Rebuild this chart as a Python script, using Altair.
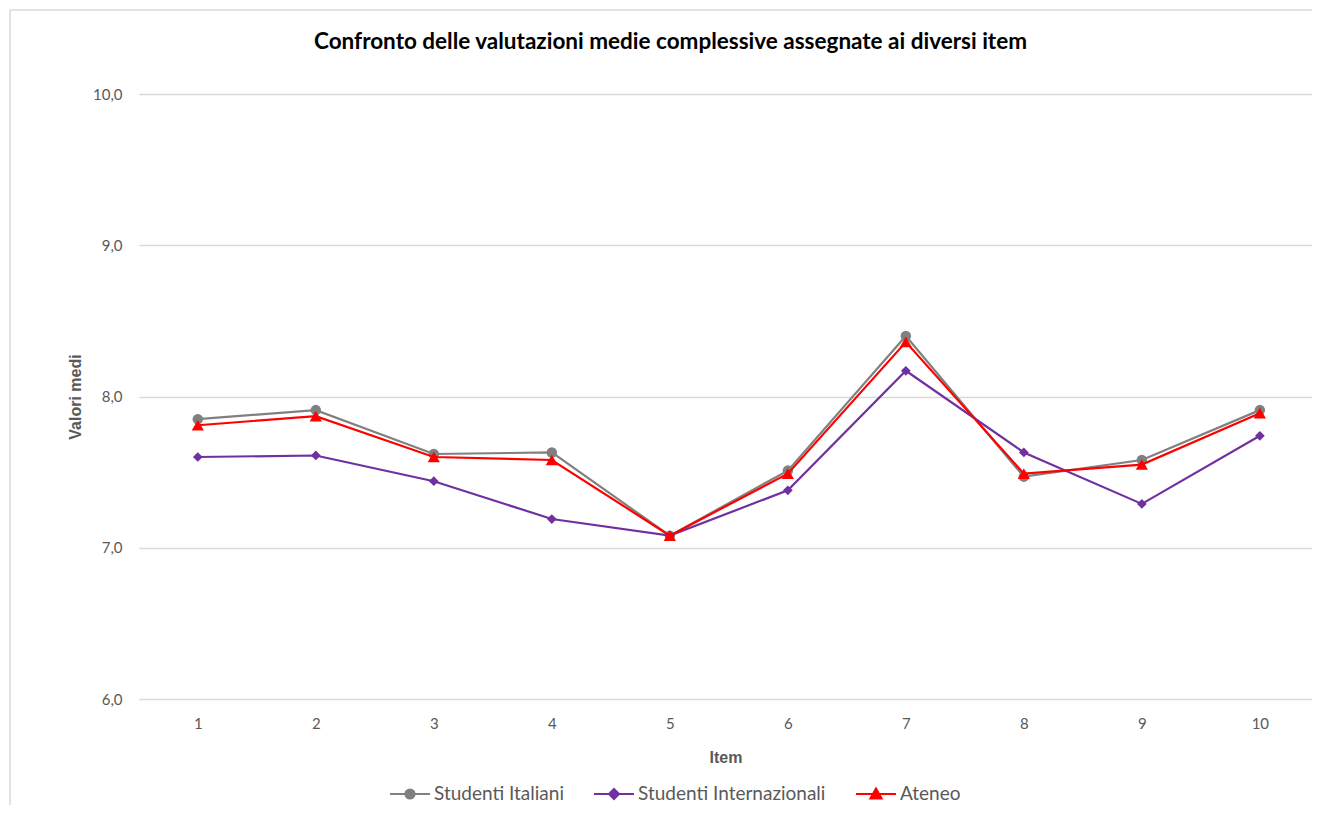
import altair as alt
import pandas as pd

items = [1, 2, 3, 4, 5, 6, 7, 8, 9, 10]
series_names = ["Studenti Italiani", "Studenti Internazionali", "Ateneo"]
italiani = [7.85, 7.91, 7.62, 7.63, 7.08, 7.51, 8.40, 7.47, 7.58, 7.91]
internazionali = [7.60, 7.61, 7.44, 7.19, 7.08, 7.38, 8.17, 7.63, 7.29, 7.74]
ateneo = [7.81, 7.87, 7.60, 7.58, 7.08, 7.49, 8.36, 7.49, 7.55, 7.89]
colors = ["#808080", "#7030A0", "#FF0000"]
shapes = ["circle", "diamond", "triangle-up"]
marker_sizes = [110, 95, 150]
legend_shapes = [
    "M-1,0H1M-0.23,0A0.23,0.23 0 1,0 0.23,0A0.23,0.23 0 1,0 -0.23,0Z",
    "M-1,0H1M0,-0.25L0.25,0L0,0.25L-0.25,0Z",
    "M-1,0H1M0,-0.27L0.28,0.22L-0.28,0.22Z",
]
y_ticks = [6, 7, 8, 9, 10]

rows = []
for name, vals in zip(series_names, [italiani, internazionali, ateneo]):
    for i, v in zip(items, vals):
        rows.append({"Item": i, "Serie": name, "Valore": v})
df = pd.DataFrame(rows)

FONT = "Lato"
AXFONT = "Liberation Sans"
GREY = "#595959"

legend = alt.Legend(
    title=None,
    orient="none",
    direction="horizontal",
    legendX=250,
    legendY=679,
    symbolSize=1600,
    symbolStrokeWidth=2,
    labelFont=FONT,
    labelFontSize=19,
    labelColor=GREY,
    labelOffset=3,
    columnPadding=26,
    labelLimit=400,
)

x_enc = alt.X(
    "Item:O",
    sort=items,
    scale=alt.Scale(type="point", padding=0.47, align=0.53),
    axis=alt.Axis(
        title="Item",
        titleFont=AXFONT,
        titleFontSize=16,
        titleFontWeight="bold",
        titleColor=GREY,
        titlePadding=18,
        labelFont=FONT,
        labelFontSize=15,
        labelColor=GREY,
        labelAngle=0,
        labelPadding=17,
        ticks=False,
        domain=False,
        grid=False,
    ),
)
y_enc = alt.Y(
    "Valore:Q",
    scale=alt.Scale(domain=[6, 10], nice=False),
    axis=alt.Axis(
        title="Valori medi",
        titleFont=AXFONT,
        titleFontSize=16,
        titleFontWeight="bold",
        titleColor=GREY,
        titlePadding=9,
        values=y_ticks,
        labelExpr="replace(format(datum.value, '.1f'), '.', ',')",
        labelFont=FONT,
        labelFontSize=15,
        labelColor=GREY,
        labelPadding=17,
        ticks=False,
        domain=False,
        grid=True,
        gridColor="#D9D9D9",
        gridWidth=1.3,
    ),
)

base = alt.Chart(df)

series_layers = []
for name, col, shp, sz in zip(series_names, colors, shapes, marker_sizes):
    sub = base.transform_filter(alt.datum.Serie == name)
    series_layers.append(
        sub.mark_line(strokeWidth=2.2, color=col).encode(x=x_enc, y=y_enc, order=alt.Order("Item:O"))
    )
    series_layers.append(
        sub.mark_point(filled=True, opacity=1, shape=shp, size=sz, color=col).encode(x=x_enc, y=y_enc)
    )

legend_layer = base.transform_filter("false").mark_point(
    filled=False, opacity=1, strokeWidth=2
).encode(
    x=x_enc,
    y=y_enc,
    color=alt.Color("Serie:N", scale=alt.Scale(domain=series_names, range=colors), legend=legend),
    fill=alt.Fill("Serie:N", scale=alt.Scale(domain=series_names, range=colors), legend=legend),
    shape=alt.Shape("Serie:N", scale=alt.Scale(domain=series_names, range=legend_shapes), legend=legend),
)

frame_src = pd.DataFrame({"a": [0]})
frame_left = alt.Chart(frame_src).mark_rule(color="#D9D9D9", strokeWidth=1.5).encode(
    x=alt.value(-129), y=alt.value(-84), y2=alt.value(711)
)
frame_top = alt.Chart(frame_src).mark_rule(color="#D9D9D9", strokeWidth=1.5).encode(
    x=alt.value(-129), x2=alt.value(1173), y=alt.value(-84)
)

chart = alt.layer(frame_left, frame_top, *series_layers, legend_layer).properties(
    width=1173,
    height=605,
    autosize=alt.AutoSizeParams(type="none"),
    padding={"left": 131, "top": 86, "right": 0, "bottom": 106},
    title=alt.Title(
        "Confronto delle valutazioni medie complessive assegnate ai diversi item",
        font=FONT,
        fontSize=22.5,
        fontWeight="bold",
        color="#000000",
        anchor="middle",
        frame="group",
        dx=-55,
        dy=44,
        offset=0,
    ),
).configure_view(stroke=None)

chart.save("out.html", embed_options={"renderer": "svg", "actions": False})
